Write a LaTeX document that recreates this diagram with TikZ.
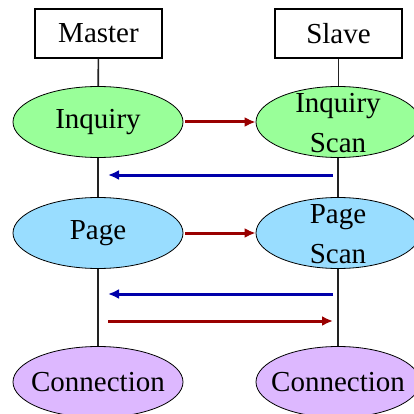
\documentclass[tikz,border=0pt]{standalone}
\usepackage{fontspec}
\setmainfont{Liberation Serif}
\usepackage{xcolor}
\usetikzlibrary{shapes.geometric,arrows.meta}
\definecolor{InquiryGreen}{HTML}{99FF99}
\definecolor{PageBlue}{HTML}{99DDFF}
\definecolor{ConnPurple}{HTML}{DDB8FF}
\definecolor{MsgRed}{HTML}{990000}
\definecolor{MsgBlue}{HTML}{0000AA}
\definecolor{LifeLine}{HTML}{222222}
\newcommand{\twoline}[2]{\smash{\raisebox{-9pt}{\begin{tabular}{@{}c@{}}#1\\[2pt]#2\end{tabular}}}}
\tikzset{
	role/.style={draw, line width=1.2pt, minimum width=127pt, minimum height=49pt, inner sep=0pt},
	state/.style={ellipse, draw, line width=0.8pt, minimum width=170pt, minimum height=71pt, inner sep=0pt},
	life/.style={draw=LifeLine, line width=1.6pt},
	msg/.style={line width=3pt, -{Latex[length=11pt,width=10pt]}},
}

\begin{document}
\begin{tikzpicture}[x=1pt, y=-1pt, font=\fontsize{29}{38}\selectfont]
		\useasboundingbox (0,0) rectangle (413,414);
		% Master side and Slave side
		\node[role] (master) at (98.5,33.5) {Master};
		\node[role] (slave) at (338.5,33.5) {Slave};
		
		\node[state, fill=InquiryGreen] (inq) at (98,122) {Inquiry};
		\node[state, fill=InquiryGreen, minimum width=164pt] (inqscan) at (338,122) {\twoline{Inquiry}{Scan}};
		\node[state, fill=PageBlue] (page) at (98,233) {Page};
		\node[state, fill=PageBlue, minimum width=164pt] (pagescan) at (338,233) {\twoline{Page}{Scan}};
		\node[state, fill=ConnPurple] (connm) at (98,382) {\makebox[0pt]{Connection}};
		\node[state, fill=ConnPurple, minimum width=164pt] (conns) at (338,382) {\makebox[0pt]{Connection}};
		
		\draw[life] (master) -- (inq);
		\draw[life] (inq) -- (page);
		\draw[life] (page) -- (connm);
		\draw[life] (slave.south) -- (slave.south |- inqscan.north);
		\draw[life] (inqscan) -- (pagescan);
		\draw[life] (pagescan) -- (conns);
		
		\coordinate (m1) at (98,175);
		\coordinate (s1) at (338,175);
		\coordinate (m2) at (98,294);
		\coordinate (s2) at (338,294);
		\coordinate (m3) at (98,321);
		\coordinate (s3) at (338,321);
		
		\draw[msg, MsgRed, shorten <=2pt] (inq) -- (inqscan);
		\draw[msg, MsgBlue, shorten <=5pt, shorten >=10pt] (s1) -- (m1);
		\draw[msg, MsgRed, shorten <=2pt] (page) -- (pagescan);
		\draw[msg, MsgBlue, shorten <=5pt, shorten >=10pt] (s2) -- (m2);
		\draw[msg, MsgRed, shorten <=10pt, shorten >=5pt] (m3) -- (s3);
	\end{tikzpicture}
\end{document}
